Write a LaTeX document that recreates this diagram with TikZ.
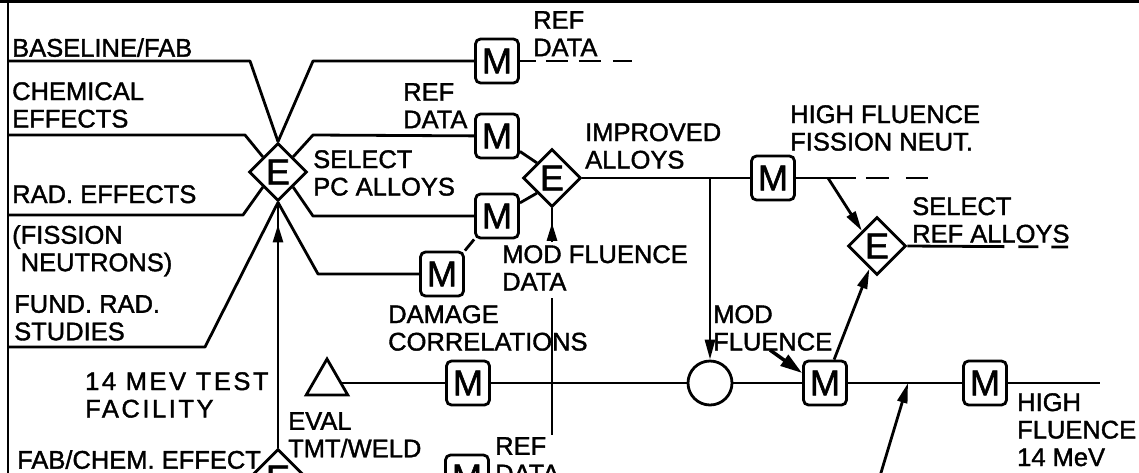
\documentclass[tikz,border=0pt]{standalone}
\usepackage{fontspec}
\setmainfont{Liberation Sans}[FakeBold=1.5]
\usetikzlibrary{shapes.geometric,arrows.meta,decorations.markings,calc}
\begin{document}
\begin{tikzpicture}[x=1pt,y=-1pt,
  ln/.style={line width=2.8pt, line join=round},
  mbox/.style={draw, line width=2.8pt, rounded corners=5pt, minimum width=43pt, minimum height=44pt, inner sep=0pt, font=\fontsize{36}{36}\selectfont},
  ediam/.style={draw, diamond, line width=2.8pt, minimum size=58pt, inner sep=0pt, font=\fontsize{36}{36}\selectfont},
  lbl/.style={anchor=north west, inner sep=0pt, align=left, font=\fontsize{25.5}{27.5}\selectfont},
  tip/.style={-{Triangle[length=20pt,width=10pt]}},
  midarrow/.style={postaction={decorate},decoration={markings,mark=at position #1 with {\arrow{Triangle[length=18pt,width=10pt]}}}},
]
\useasboundingbox (0,0) rectangle (1139,472);
\fill[white] (0,0) rectangle (1139,472);
\clip (0,0) rectangle (1139,472);

% frame
\coordinate (tl) at (8,0);
\coordinate (bl) at (8,480);
\draw[ln] (0,1.5) -- (1139,1.5);
\draw[ln] (tl) -- (bl);

% nodes
\node[ediam] (e1) at (278,172) {E};
\node[ediam] (e2) at (552,178) {E};
\node[ediam] (e3) at (877,246) {E};
\node[ediam] (e4) at (278,478) {E};
\node[mbox] (m1) at (497,61) {M};
\node[mbox] (m2) at (497,136) {M};
\node[mbox] (m3) at (497,216) {M};
\node[mbox] (m4) at (442,274) {M};
\node[mbox] (m5) at (468,383) {M};
\node[mbox] (m6) at (773,178) {M};
\node[mbox] (m7) at (825,383) {M};
\node[mbox] (m8) at (985,383) {M};
\node[mbox] (m9) at (467,477) {M};
\node[draw, circle, line width=2.8pt, minimum size=44pt, inner sep=0pt] (c) at (710,383) {};
\node[draw, regular polygon, regular polygon sides=3, line width=2.8pt, minimum size=48pt, inner sep=0pt] (tri) at (327,383) {};

% labels
\node[lbl] (t1) at (12,38) {BASELINE/FAB};
\node[lbl] (t2) at (12,82) {CHEMICAL\\EFFECTS};
\node[lbl] (t3) at (12,185) {RAD. EFFECTS};
\node[lbl] (t4) at (12,225) {(FISSION\\\phantom{(}NEUTRONS)};
\node[lbl] (t5) at (14,295) {FUND. RAD.\\STUDIES};
\node[lbl, font=\fontsize{25.5}{27.5}\selectfont\addfontfeature{LetterSpace=10}] (t6) at (85,372) {14 MEV TEST\\FACILITY};
\node[lbl] (t7) at (17,450) {FAB/CHEM. EFFECT};
\node[lbl] (t8) at (313,150) {SELECT\\PC ALLOYS};
\node[lbl] (t9) at (533,11) {REF\\DATA};
\node[lbl] (t10) at (403,83) {REF\\DATA};
\node[lbl] (t11) at (585,123) {IMPROVED\\ALLOYS};
\node[lbl] (t12) at (790,105) {HIGH FLUENCE\\FISSION NEUT.};
\node[lbl] (t13) at (912,197) {SELECT\\REF ALLOYS};
\node[lbl] (t14) at (502,245) {MOD FLUENCE\\DATA};
\node[lbl] (t15) at (388,305) {DAMAGE\\CORRELATIONS};
\node[lbl] (t16) at (713,305) {MOD\\FLUENCE};
\node[lbl] (t17) at (288,412) {EVAL\\TMT/WELD};
\node[lbl] (t18) at (495,437) {REF\\DATA};
\node[lbl] (t19) at (1017,393) {HIGH\\FLUENCE\\14 MeV};

% free-end coordinates
\coordinate (a1) at (8,61);
\coordinate (a2) at (8,135);
\coordinate (a3) at (8,215);
\coordinate (a4) at (8,347);
\coordinate (d1) at (632,61);
\coordinate (d2) at (928,178);
\coordinate (d3) at (1068,247);
\coordinate (j2) at (828,178);
\coordinate (md1) at (552,242);
\coordinate (md2) at (552,298);
\coordinate (md3) at (552,435);
\coordinate (endr) at (1100,383);
\coordinate (mf) at (770,350);
\coordinate (bt) at (880,476);
\coordinate (j3) at (908,383);

% left inputs to E1
\draw[ln] (a1) -- (250,61) -- (e1.north);
\draw[ln] (a2) -- (245,135) -- (e1.north west);
\draw[ln] (a3) -- (243,215) -- (e1.south west);
\draw[ln] (a4) -- (205,347) -- (e1.south);
% outputs of E1
\draw[ln] (e1.north) -- (313,61) -- (m1);
\draw[ln] (e1.north east) -- (313,135) -- (m2);
\draw[ln] (e1.south east) -- (313,216) -- (m3);
\draw[ln] (e1.south) -- (318,274) -- (m4);
\draw[ln, midarrow=0.91] (e4.north) -- (e1.south);

% ref data dashes
\draw[line width=2.8pt, dash pattern=on 16pt off 10pt on 22pt off 11pt on 22pt off 12pt on 20pt off 100pt] (m1.east) -- (d1);

% middle E
\draw[ln] (m2) -- (e2.north west);
\draw[ln] (m3) -- (e2.south west);
\draw[ln] (m4.north east) -- (m3.south west);
\draw[ln, midarrow=0.57] (md1) -- (e2.south);
\draw[ln] (md2) -- (md3);
\draw[ln] (e2.east) -- (m6);
\draw[ln, tip] (c |- e2) -- (c);

% high fluence fission
\draw[line width=2.8pt, dash pattern=on 60pt off 10pt on 23pt off 17pt on 23pt off 100pt] (m6.east) -- (d2);
\draw[ln, tip] (j2) -- (e3.north west);
\draw[line width=2.8pt, dash pattern=on 97pt off 14pt on 20pt off 13pt on 18pt off 100pt] (e3.east) -- (d3);
\draw[ln, tip] (m7) -- ($(e3.south west)!0.5!(e3.south)$);

% 14 MeV main line
\draw[ln] (tri) -- (m5) -- (c) -- (m7) -- (m8) -- (endr);
\draw[line width=3.5pt, -{Triangle[length=22pt,width=13pt]}] (mf) -- ([yshift=10pt]m7.west);
\draw[ln, tip] (bt) -- (j3);
\end{tikzpicture}
\end{document}
